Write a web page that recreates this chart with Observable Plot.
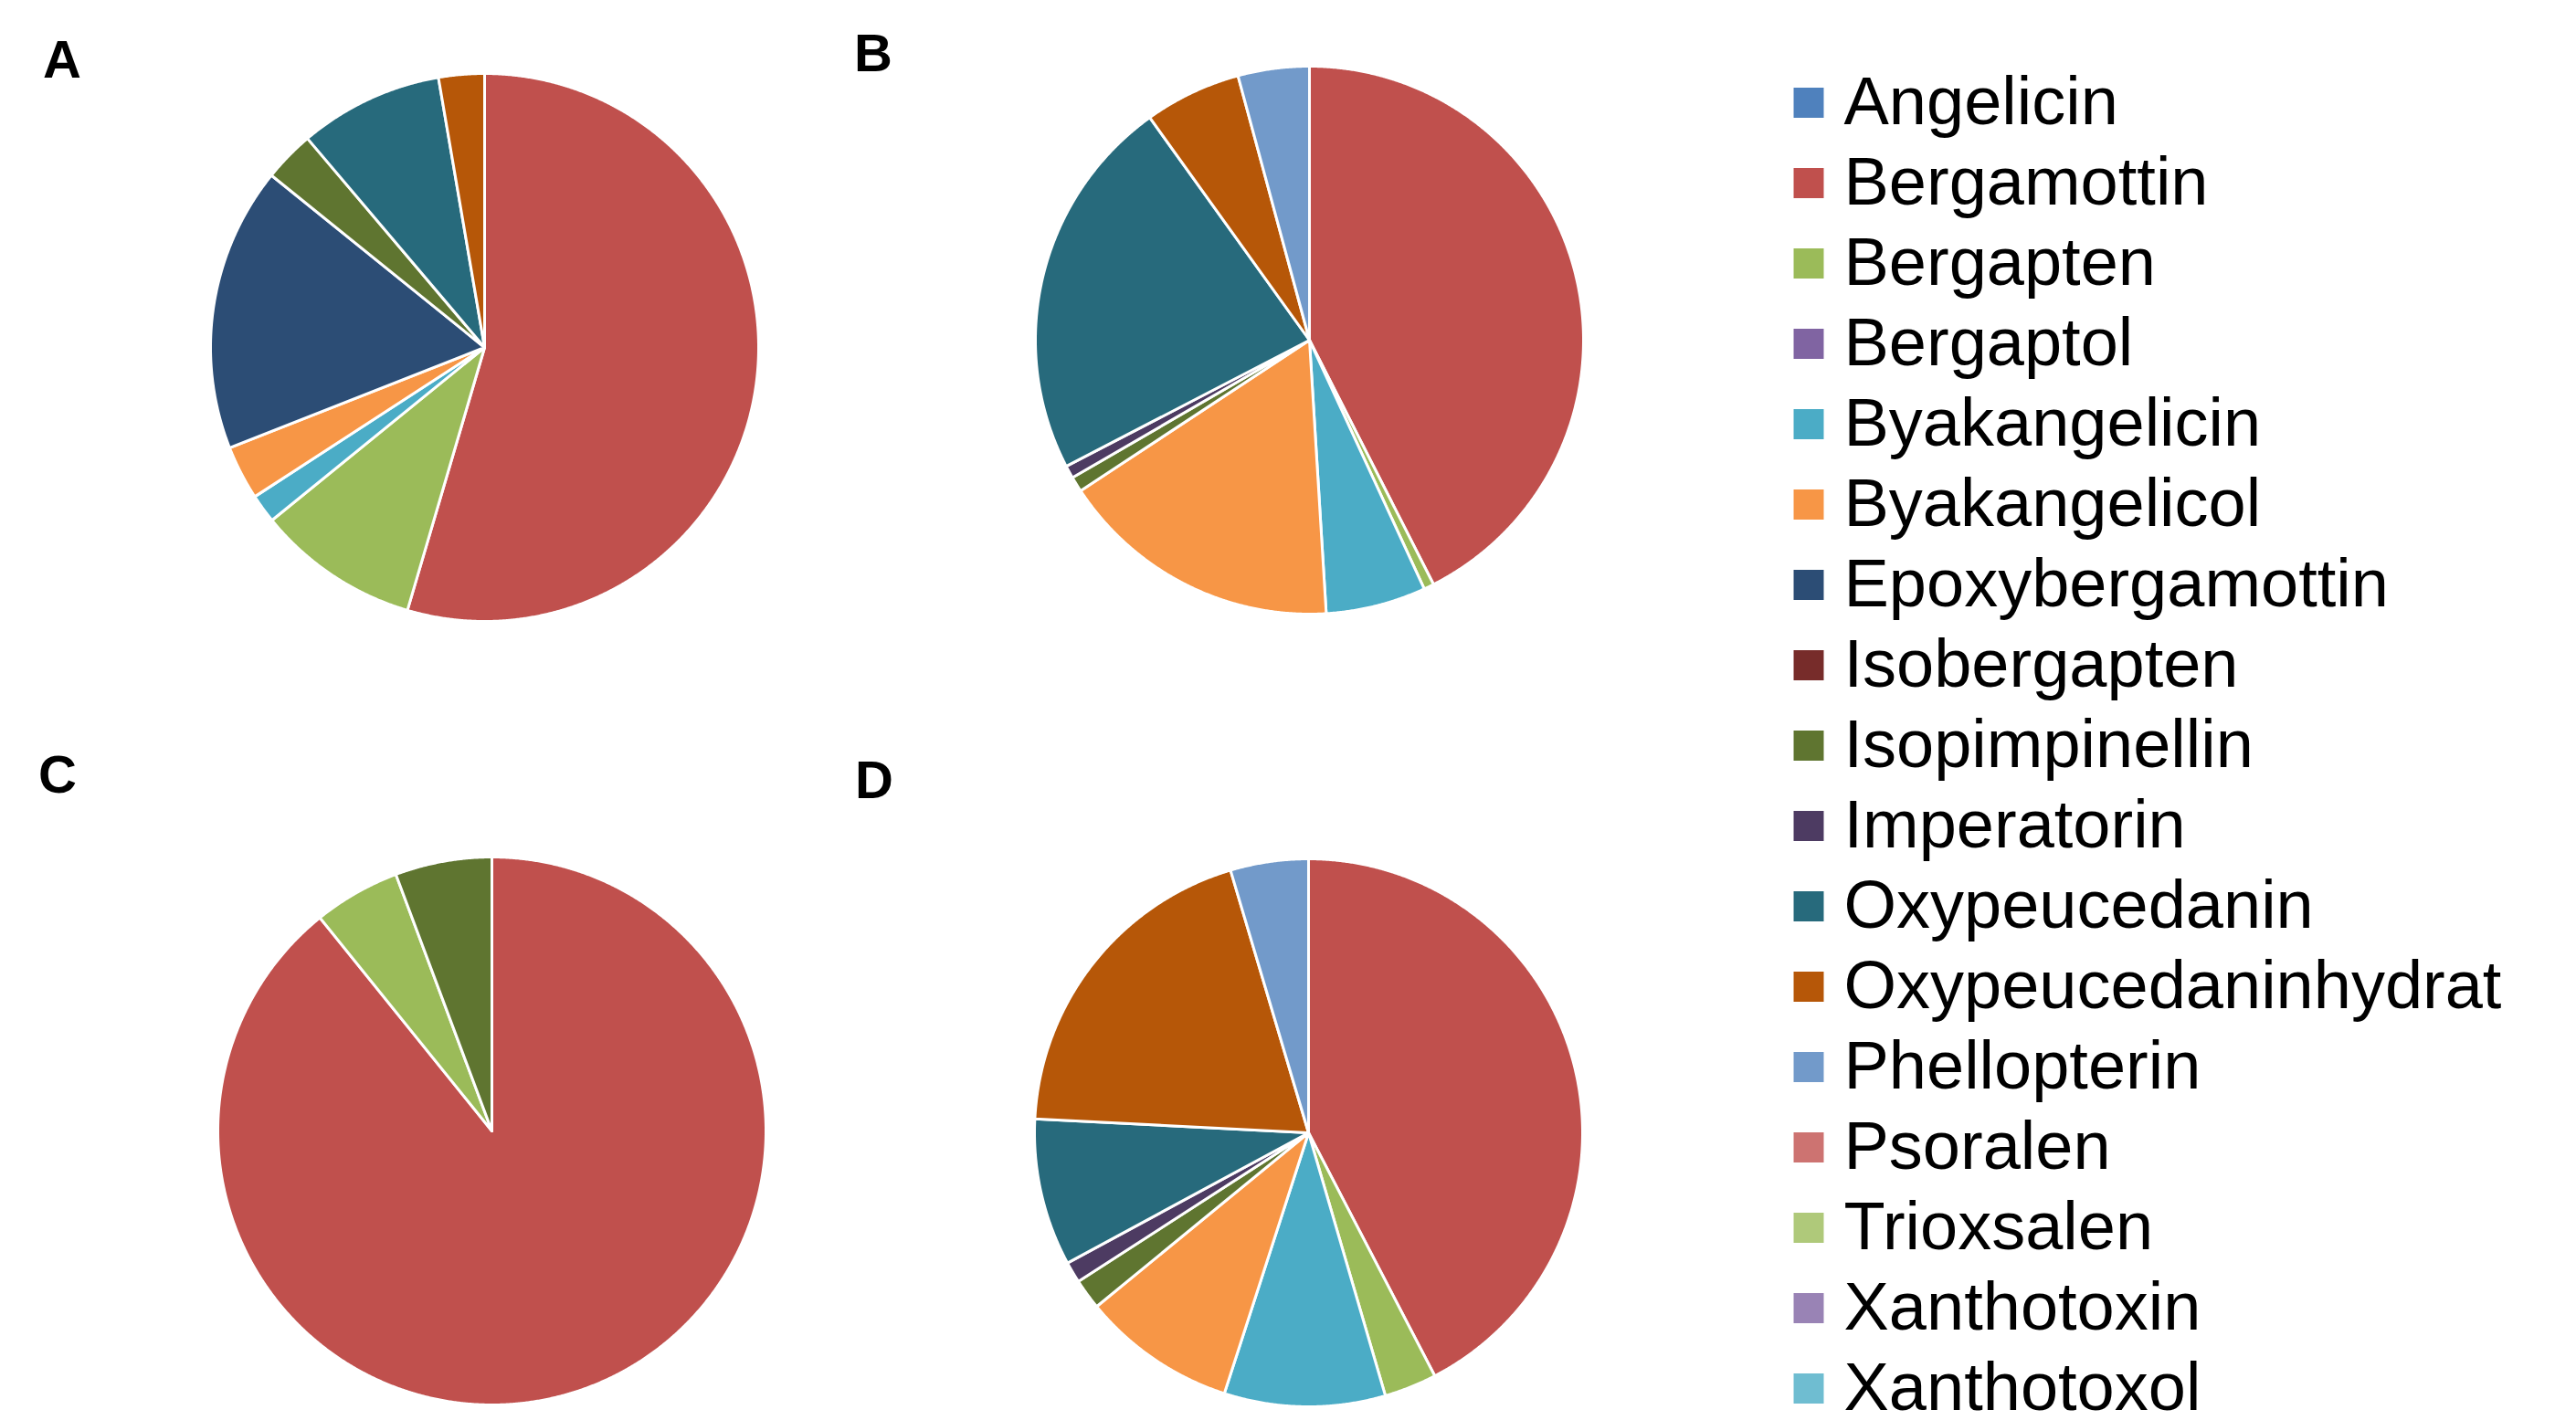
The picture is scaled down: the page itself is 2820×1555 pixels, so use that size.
<!DOCTYPE html>
<html>
<head>
<meta charset="utf-8">
<script src="https://cdn.jsdelivr.net/npm/d3@7"></script>
<script src="https://cdn.jsdelivr.net/npm/@observablehq/plot@0.6"></script>
<style>
  html, body { margin: 0; padding: 0; background: #fff; }
  #root { position: relative; width: 2820px; height: 1555px; overflow: hidden; background: #fff;
          font-family: "Liberation Sans", Arial, sans-serif; }
  .pie, .legend { position: absolute; }
  .panel-label { position: absolute; font: bold 58px "Liberation Sans", Arial, sans-serif; line-height: 58px; color: #000; }
</style>
</head>
<body>
<div id="root"></div>
<script>
// ---- data (percent of total per sample) ----
const compounds = ["Angelicin","Bergamottin","Bergapten","Bergaptol","Byakangelicin","Byakangelicol",
  "Epoxybergamottin","Isobergapten","Isopimpinellin","Imperatorin","Oxypeucedanin",
  "Oxypeucedaninhydrat","Phellopterin","Psoralen","Trioxsalen","Xanthotoxin","Xanthotoxol"];
const colors = ["#4F81BD","#C0504D","#9BBB59","#8064A2","#4BACC6","#F79646",
  "#2C4D75","#772C2A","#5F7530","#4D3B62","#276A7C",
  "#B65708","#729ACA","#CD7371","#AFC97A","#9983B5","#6FBDD1"];
const panels = ["A","B","C","D"];
const sampleA = [0, 54.6, 9.6, 0, 1.7, 3.2, 16.8, 0, 3.0, 0, 8.5, 2.7, 0, 0, 0, 0, 0];
const sampleB = [0, 42.5, 0.6, 0, 5.9, 16.7, 0, 0, 0.9, 0.75, 22.7, 5.7, 4.2, 0, 0, 0, 0];
const sampleC = [0, 89.2, 5.1, 0, 0, 0, 0, 0, 5.7, 0, 0, 0, 0, 0, 0, 0, 0];
const sampleD = [0, 42.4, 3.1, 0, 9.5, 9.1, 0, 0, 1.8, 1.25, 8.7, 19.6, 4.6, 0, 0, 0, 0];
const samples = [sampleA, sampleB, sampleC, sampleD];

// ---- layout (pixels) ----
const pieCenters = [[530, 380], [1433, 372], [538, 1238], [1432, 1240]];
const labelPos = [[47, 36], [935, 29], [42, 819], [936, 825]];
const R = 300, PAD = 10;

const root = document.getElementById("root");
const colorScale = {domain: compounds, range: colors};

function slicePolygons(values) {
  const arcs = d3.pie().sort(null).value(d => d.v).startAngle(0).endAngle(2 * Math.PI)(
    compounds.map((name, i) => ({name, v: values[i]}))
  );
  const pts = [];
  const step = Math.PI / 720;
  arcs.forEach((a, k) => {
    if (!(a.data.v > 0)) return;
    const key = k;
    pts.push({key, name: a.data.name, x: 0, y: 0});
    const n = Math.max(2, Math.ceil((a.endAngle - a.startAngle) / step));
    for (let j = 0; j <= n; j++) {
      const t = a.startAngle + (a.endAngle - a.startAngle) * j / n;
      pts.push({key, name: a.data.name, x: Math.sin(t), y: Math.cos(t)});
    }
    pts.push({key, name: a.data.name, x: 0, y: 0});
  });
  return pts;
}

samples.forEach((values, i) => {
  const pts = slicePolygons(values);
  const chart = Plot.plot({
    width: 2 * (R + PAD), height: 2 * (R + PAD), margin: PAD,
    x: {domain: [-1, 1], axis: null},
    y: {domain: [-1, 1], axis: null},
    color: colorScale,
    style: {background: "transparent"},
    marks: [
      Plot.line(pts, {x: "x", y: "y", z: "key", fill: "name", stroke: "white",
        strokeWidth: 3, strokeLinejoin: "round", strokeOpacity: 1})
    ]
  });
  chart.classList.add("pie");
  chart.style.left = (pieCenters[i][0] - R - PAD) + "px";
  chart.style.top = (pieCenters[i][1] - R - PAD) + "px";
  root.appendChild(chart);

  const lab = document.createElement("div");
  lab.className = "panel-label";
  lab.textContent = panels[i];
  lab.style.left = labelPos[i][0] + "px";
  lab.style.top = labelPos[i][1] + "px";
  root.appendChild(lab);
});

// ---- legend ----
const legend = Plot.plot({
  width: 920, height: 1555,
  marginTop: 109, marginBottom: 31.5, marginLeft: 0, marginRight: 0,
  y: {type: "point", domain: compounds, padding: 0, axis: null},
  color: colorScale,
  style: {fontFamily: "'Liberation Sans', Arial, sans-serif", background: "transparent"},
  marks: [
    Plot.dot(compounds, {y: d => d, fill: d => d, symbol: "square", r: 18.6, frameAnchor: "left", dx: 79.5}),
    Plot.text(compounds, {y: d => d, text: d => d, frameAnchor: "left", dx: 118, textAnchor: "start",
      fontSize: 74, fill: "black"})
  ]
});
legend.classList.add("legend");
legend.style.left = "1900px";
legend.style.top = "0px";
legend.style.overflow = "visible";
root.appendChild(legend);
</script>
</body>
</html>
